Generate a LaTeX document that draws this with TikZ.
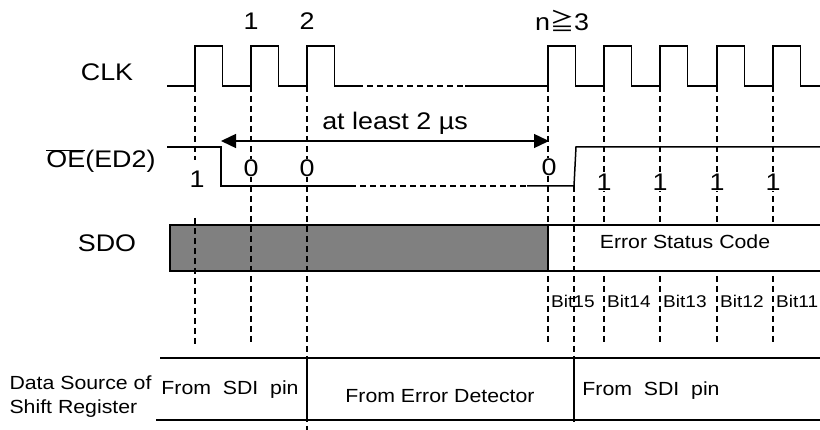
\documentclass[tikz,border=0pt]{standalone}
\usepackage{fontspec}
\setmainfont{Liberation Sans}[FakeStretch=1.12]
\newfontfamily\cjk{Noto Sans CJK JP}
\usetikzlibrary{arrows.meta}
\newcommand{\bigsize}{\fontsize{24}{28}\selectfont}
\newcommand{\midsize}{\fontsize{19}{24}\selectfont}
\newcommand{\smallsize}{\fontsize{17}{19}\selectfont}
\tikzset{x=1pt, y=-1pt, % One unit per pixel, y runs downwards
    wave/.style={line width=1.5pt}, % Signal lines
    guide/.style={line width=1.4pt, dash pattern=on 6pt off 4pt}, % Vertical timing marks
    signame/.style={font=\bigsize}, % Signal names on the left
    lvl/.style={font=\bigsize, fill=white, inner sep=1pt}, % Logic levels
    srccell/.style={font=\midsize},
    bitname/.style={font=\smallsize, anchor=west, inner sep=1pt}
}
\begin{document}
\begin{tikzpicture}
\useasboundingbox (0,0) rectangle (820,430);

% SDO before the error code
\filldraw[fill=black!50, line width=1.7pt] (170,225) rectangle (548,271);

% timing marks
\draw[guide] (195,86) -- (195,160) (195,218) -- (195,345);
\foreach \x in {251,548,604,660,717,773}
    \draw[guide] (\x,86) -- (\x,345);
\draw[guide] (307,86) -- (307,430);

% error status code
\fill[white] (548,225) rectangle (820,271);
\draw[wave] (548,225) -- (820,225) (548,271) -- (820,271);
\draw[line width=1.7pt] (548,225) -- (548,271);
\draw[guide] (574,186) -- (574,425);

% CLK
\draw[wave] (167,86) \foreach \x in {195,251,307} {-- (\x,86) -- (\x,46) -- (\x+27.5,46) -- (\x+27.5,86)} -- (360,86);
\draw[guide] (337,86) -- (465,86);
\draw[wave] (465,86) \foreach \x in {548,604,660,717,773} {-- (\x,86) -- (\x,46) -- (\x+27.5,46) -- (\x+27.5,86)} -- (820,86);

% OE(ED2)
\draw[wave] (167,147) -- (221,147) -- (221,186) -- (350,186);
\draw[guide] (350,186) -- (527,186);
\draw[wave] (527,186) -- (574,186) -- (576,147) -- (820,147);

\coordinate (t0) at (221,141);
\coordinate (tn) at (549,141);
\draw[line width=1.4pt, {Triangle[length=15pt,width=14pt]}-{Triangle[length=15pt,width=14pt]}] (t0) -- (tn);
\node[font=\bigsize] (gap) at (395,123) {at least 2 µs};

% labels
\node[signame] (clk) at (107,72) {CLK};
\node[signame] (oe) at (101,161) {$\overline{\mbox{OE}}$(ED2)};
\node[signame] (sdo) at (107,243) {SDO};
\node[signame] (n1) at (251,21) {1};
\node[signame] (n2) at (307,21) {2};
\node[signame] (nn) at (562,21) {n{\cjk ≧}3};

\node[lvl] (l1) at (197,179) {1};
\node[lvl] (l2) at (251,168) {0};
\node[lvl] (l3) at (307,168) {0};
\node[lvl] (l4) at (549,167) {0};
\foreach \x in {604,660,717,773}
    \node[lvl] (h\x) at (\x,182) {1};

\node[srccell] (esc) at (685,242) {Error Status Code};
\foreach \x/\b in {548/15,604/14,660/13,717/12,773/11}
    \node[bitname] (bit\b) at (\x+2,301) {Bit\b};

% data source of shift register
\draw[wave] (160,358) -- (820,358) (156,420) -- (820,420);
\draw[wave] (307,358) -- (307,420) (574,358) -- (574,420);
\node[srccell, align=left, anchor=west] (src) at (6,397) {Data Source of\\Shift Register};
\node[srccell] (from1) at (230,390) {From\ \ SDI\ \ pin};
\node[srccell] (fromed) at (440,396) {From Error Detector};
\node[srccell] (from2) at (651,391) {From\ \ SDI\ \ pin};
\end{tikzpicture}
\end{document}
